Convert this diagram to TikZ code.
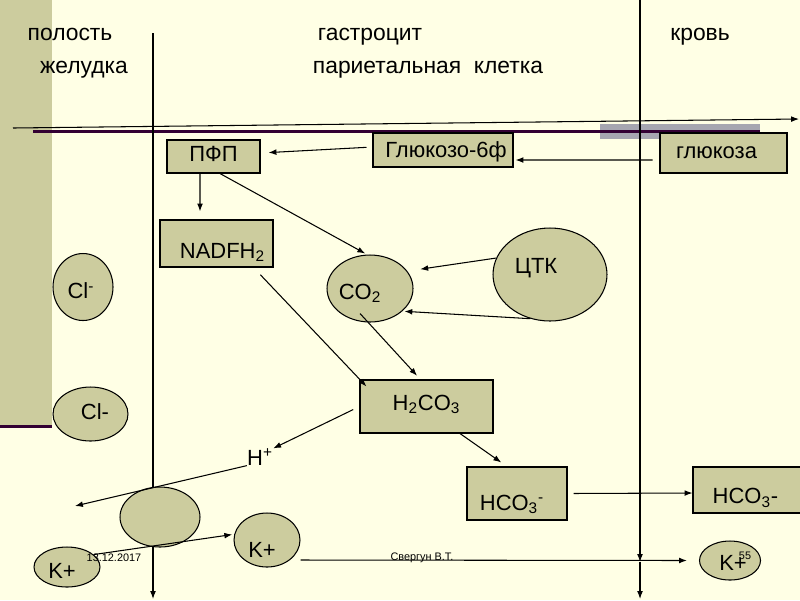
\documentclass[tikz,border=0pt]{standalone}
\usepackage{fontspec}
\setmainfont{Liberation Sans}
\usetikzlibrary{arrows.meta,shapes.geometric}
\definecolor{bgcream}{RGB}{255,255,229}
\definecolor{tan}{RGB}{204,204,158}
\definecolor{plum}{RGB}{51,0,51}
\definecolor{membgrey}{RGB}{166,166,176}

\begin{document}
\begin{tikzpicture}[x=0.02cm,y=-0.02cm,font=\fontsize{12.5}{15}\selectfont]
\tikzset{box/.style = {shape=rectangle,draw,fill=tan,line width=0.6pt,inner sep=0pt}}
\tikzset{ion/.style = {shape=ellipse,draw,fill=tan,line width=0.6pt,inner sep=0pt}}
\tikzset{edge/.style = {->,> = {Latex[length=4.5pt,width=3.3pt]},line width=0.6pt}}
\tikzset{title/.style = {font=\fontsize{13}{15}\selectfont,anchor=base}}
\tikzset{foot/.style = {font=\fontsize{6.2}{7}\selectfont,inner sep=0pt}}

\fill[bgcream] (0,0) rectangle (800,600);
\useasboundingbox (0,0) rectangle (800,600);
\fill[tan] (0,0) rectangle (52,425);
\fill[plum] (0,425) rectangle (52,428);

% membranes
\fill[membgrey] (600,124) rectangle (760,139);
\draw[line width=1.7pt,plum] (33,131) -- (760,131);
\draw[edge] (13,128) -- (799,119);
\draw[edge] (153,33) -- (153,599);
\draw[edge] (640,0) -- (640,562);
\draw[edge] (640,562) -- (640,599);

\node[title] (lumen1) at (70,40) {полость};
\node[title] (lumen2) at (84,73) {желудка};
\node[title] (cell1) at (370,40) {гастроцит};
\node[title] (cell2) at (428,73) {париетальная\ \ клетка};
\node[title] (blood) at (700,40) {кровь};

\node[box,minimum width=1.86cm,minimum height=0.66cm,label={[shift={(0,-3)}]center:ПФП}] (pfp) at (213.5,156.5) {};
\node[box,minimum width=2.8cm,minimum height=0.68cm,label={[shift={(3,2)}]center:Глюкозо-6ф}] (g6f) at (443,150) {};
\node[box,minimum width=2.54cm,minimum height=0.8cm,label={[shift={(-7,0)}]center:глюкоза}] (gluc) at (723.5,153) {};
\node[box,minimum width=2.26cm,minimum height=0.94cm,label={[shift={(6,9)}]center:NADFH\textsubscript{2}}] (nadf) at (216.5,243.5) {};
\node[box,minimum width=2.66cm,minimum height=1.06cm,label={[shift={(0,-2)}]center:H\textsubscript{2}CO\textsubscript{3}}] (h2co3) at (426.5,406.5) {};
\node[box,minimum width=2cm,minimum height=1.06cm,label={[shift={(-5,11)}]center:HCO\textsubscript{3}\textsuperscript{-}}] (hco3) at (517,493.5) {};
\node[box,minimum width=2.18cm,minimum height=0.92cm,label={[shift={(-2,8)}]center:HCO\textsubscript{3}-}] (hco3r) at (747.5,490) {};

\node[ion,minimum width=1.2cm,minimum height=1.34cm,label={[shift={(-2,4)}]center:Cl\textsuperscript{-}}] (cltop) at (83,287) {};
\node[ion,minimum width=1.5cm,minimum height=1.08cm,label={[shift={(4.5,-2)}]center:Cl-}] (clbot) at (90.5,414) {};
\node[ion,minimum width=1.72cm,minimum height=1.34cm,label={[shift={(-10,5)}]center:CO\textsubscript{2}}] (co2) at (370,288.5) {};
\node[ion,minimum width=2.28cm,minimum height=1.86cm,label={[shift={(-14,-6)}]center:ЦТК}] (ctk) at (550,274.5) {};
\node[ion,minimum width=1.6cm,minimum height=1.2cm] (pump) at (160,517) {};
\node[ion,minimum width=1.32cm,minimum height=0.8cm,label={[shift={(-5,4)}]center:K+}] (kleft) at (67,567) {};
\node[ion,minimum width=1.32cm,minimum height=1.08cm,label={[shift={(-5,10)}]center:K+}] (kmid) at (267,540) {};
\node[ion,minimum width=1.22cm,minimum height=0.78cm,label={[shift={(3,2)}]center:K+}] (kright) at (730,560.5) {};

\node[inner sep=0pt] (hplus) at (260,457) {H\textsuperscript{+}};
\coordinate (hout) at (75,506);

\node[foot] (date) at (114,557.5) {13.12.2017};
\node[foot] (author) at (422,558) {Свергун В.Т.};
\node[foot] (page) at (745,556) {55};

\draw[edge,shorten <=0.12cm,shorten >=0.16cm] ([yshift=0.06cm]g6f.west) to ([yshift=0.07cm]pfp.east);
\draw[edge,shorten <=0.14cm,shorten >=0.04cm] ([yshift=-0.14cm]gluc.west) to ([yshift=-0.2cm]g6f.east);
\draw[edge,shorten >=0.16cm] ([xshift=-0.27cm]pfp.south) to ([xshift=-0.33cm]nadf.north);
\draw[edge,shorten >=0.04cm] ([xshift=0.13cm]pfp.south) to ([xshift=-0.06cm]co2.north);
\draw[edge,shorten >=0.26cm] (ctk.163) to (co2.25);
\draw[edge,shorten >=0.04cm] (ctk.-114) to (co2.-35);
\draw[edge,shorten >=0.1cm] ([shift={(-10,25)}]co2.center) to ([xshift=-0.12cm]h2co3.north);
\draw[edge,shorten <=0.2cm] ([xshift=-0.4cm]nadf.south east) to ([shift={(7,7)}]h2co3.north west);
\draw[edge,shorten <=0.14cm] (h2co3.west) to (hplus.north east);
\draw[edge] (hplus.south west) to (hout);
\draw[edge,shorten >=0.04cm] (kleft.25) to (kmid.170);
\draw[edge,shorten >=0.24cm] ([yshift=-0.4cm]kmid.east) to (kright.west);
\draw[edge,shorten >=0.14cm] ([xshift=0.67cm]h2co3.south) to ([xshift=-0.2cm]hco3.north);
\draw[edge,shorten <=0.12cm] (hco3.east) to ([yshift=-0.06cm]hco3r.west);
\end{tikzpicture}
\end{document}
